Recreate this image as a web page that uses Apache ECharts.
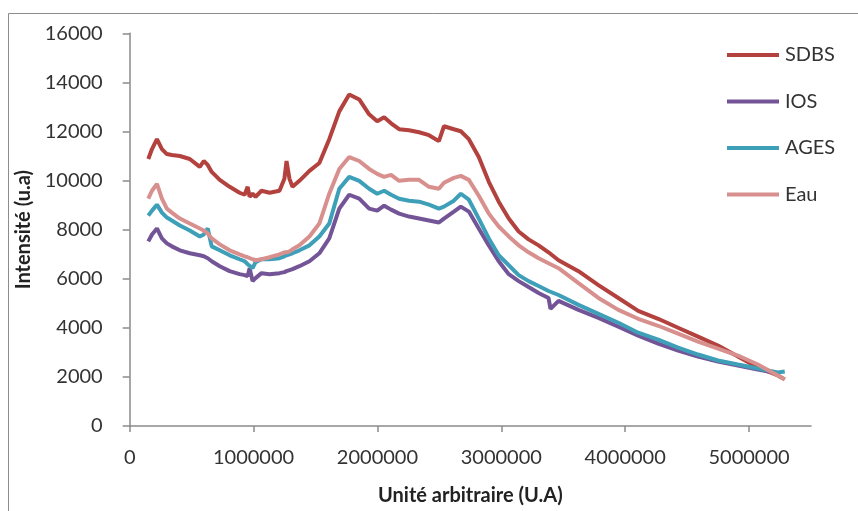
<!DOCTYPE html>
<html>
<head>
<meta charset="utf-8">
<script src="https://cdn.jsdelivr.net/npm/echarts@6/dist/echarts.min.js"></script>
<style>
html,body{margin:0;padding:0;background:#fff;}
#chart{width:858px;height:511px;}
</style>
</head>
<body>
<div id="chart"></div>
<script>
const seriesNames = ['SDBS', 'IOS', 'AGES', 'Eau'];
const xValues = [150000,180000,220000,260000,300000,340000,405000,485000,566000,598000,630000,662000,727000,807000,887000,928000,952000,968000,992000,1016000,1064000,1129000,1209000,1249000,1266000,1290000,1314000,1370000,1451000,1531000,1611000,1692000,1772000,1853000,1933000,1998000,2054000,2110000,2175000,2255000,2336000,2416000,2496000,2537000,2617000,2673000,2738000,2818000,2899000,2979000,3060000,3140000,3220000,3301000,3381000,3397000,3462000,3623000,3784000,3945000,4105000,4266000,4427000,4588000,4749000,4910000,5071000,5232000,5288000];
const sdbs = [10880,11283,11687,11283,11080,11040,11000,10878,10555,10797,10636,10353,10029,9746,9503,9422,9746,9342,9463,9342,9584,9503,9584,10070,10797,10070,9746,9989,10393,10717,11687,12819,13507,13305,12698,12415,12577,12334,12092,12051,11970,11849,11606,12213,12092,12011,11687,10959,9948,9139,8452,7926,7603,7360,7077,7020,6753,6309,5742,5217,4691,4368,4004,3640,3276,2831,2386,2062,1900];
const ios = [7522,7805,8048,7643,7441,7320,7158,7037,6956,6915,6834,6713,6511,6309,6187,6147,6106,6430,5904,6026,6228,6187,6228,6268,6309,6349,6390,6511,6713,7037,7643,8856,9422,9261,8856,8775,8978,8816,8654,8533,8452,8371,8290,8452,8735,8937,8735,8048,7360,6713,6187,5904,5662,5419,5217,4772,5095,4731,4408,4044,3680,3357,3073,2831,2629,2467,2305,2150,null];
const ages = [8573,8775,9018,8695,8492,8371,8169,7967,7724,7805,8048,7320,7158,6956,6794,6713,6592,6511,6430,6673,6794,6794,6834,6915,6956,6996,7037,7158,7360,7724,8250,9665,10150,9989,9665,9463,9584,9422,9261,9180,9140,9018,8856,8937,9180,9463,9220,8452,7643,6956,6551,6147,5904,5702,5500,5480,5338,4934,4570,4206,3801,3518,3195,2912,2669,2507,2346,2184,2224];
const eau = [9261,9584,9867,9261,8856,8695,8452,8250,8048,7967,7845,7643,7400,7158,6996,6915,6875,6834,6794,6753,6794,6875,6996,7077,7077,7117,7198,7360,7724,8250,9463,10474,10959,10797,10474,10272,10150,10231,9989,10029,10029,9746,9665,9908,10110,10191,10029,9382,8654,8128,7724,7360,7077,6834,6632,6610,6430,5823,5217,4731,4368,4084,3761,3437,3154,2871,2507,2062,1900];
const xTickValues = [0,1000000,2000000,3000000,4000000,5000000];
const colors = ['#B3413E', '#735497', '#3E9FB8', '#D8908F'];

const allData = [sdbs, ios, ages, eau];
const font = 'Lato, "Open Sans", sans-serif';
const plain = v => String(v);

const chart = echarts.init(document.getElementById('chart'), null, {renderer: 'canvas'});
chart.setOption({
  backgroundColor: '#fff',
  animation: false,
  graphic: [{
    type: 'rect', left: 8, top: 13, z: -1,
    shape: {width: 900, height: 600},
    style: {fill: '#fff', stroke: '#8c8c8c', lineWidth: 1}
  }],
  legend: {
    orient: 'vertical',
    left: 722,
    top: 40,
    itemWidth: 52,
    itemHeight: 4,
    itemGap: 26.5,
    icon: 'rect',
    data: seriesNames,
    textStyle: {fontFamily: font, fontSize: 20, color: '#333', lineHeight: 20, padding: [0,0,0,1]}
  },
  grid: {left: 129.7, right: 47, top: 33.3, bottom: 82, containLabel: false},
  xAxis: {
    type: 'value', min: 0, max: 5500000, interval: 1000000,
    name: 'Unité arbitraire (U.A)', nameLocation: 'middle', nameGap: 60,
    nameTextStyle: {fontFamily: font, fontSize: 20, fontWeight: 'bold', color: '#222'},
    axisLine: {show: true, lineStyle: {color: '#8a8a8a', width: 1.5}},
    axisTick: {show: true, length: 6, inside: false, lineStyle: {color: '#8a8a8a', width: 1.5}, customValues: xTickValues},
    axisLabel: {fontFamily: font, fontSize: 20, color: '#333', margin: 22, customValues: xTickValues, formatter: plain},
    splitLine: {show: false}
  },
  yAxis: {
    type: 'value', min: 0, max: 16000, interval: 2000,
    name: 'Intensité (u.a)', nameLocation: 'middle', nameGap: 74,
    nameTextStyle: {fontFamily: font, fontSize: 20, fontWeight: 'bold', color: '#222'},
    axisLine: {show: true, lineStyle: {color: '#8a8a8a', width: 1.5}},
    axisTick: {show: true, length: 7, lineStyle: {color: '#8a8a8a', width: 1.5}},
    axisLabel: {fontFamily: font, fontSize: 20, color: '#333', margin: 27, formatter: plain},
    splitLine: {show: false}
  },
  series: seriesNames.map((n, i) => ({
    name: n,
    type: 'line',
    data: xValues.map((x, j) => [x, allData[i][j]]),
    showSymbol: false,
    symbol: 'none',
    connectNulls: false,
    lineStyle: {color: colors[i], width: 4},
    itemStyle: {color: colors[i]}
  }))
});
</script>
</body>
</html>
